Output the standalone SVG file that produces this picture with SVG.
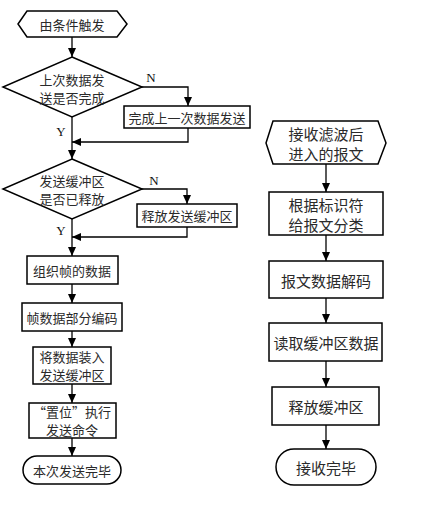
<svg xmlns="http://www.w3.org/2000/svg" width="435" height="510" viewBox="0 0 435 510">
<style>
.s{fill:#fff;stroke:#000;stroke-width:1.5}
.c{fill:none;stroke:#000;stroke-width:1.3}
.t{font-family:"Noto Sans CJK SC","Liberation Serif",serif;font-size:13px;fill:#2a2a2a;text-anchor:middle;dominant-baseline:central}
.r{font-size:15px}
.yn{font-family:"Liberation Serif",serif;font-size:13px;fill:#111;text-anchor:middle;dominant-baseline:central}
</style>
<defs>
<marker id="a" markerUnits="userSpaceOnUse" markerWidth="9" markerHeight="8" refX="9" refY="4" orient="auto">
<path d="M0,0 L9,4 L0,8 z" fill="#000"/>
</marker>
</defs>
<rect width="435" height="510" fill="#fff"/>
<g id="connectors">
<path class="c" d="M72,37 V57" marker-end="url(#a)"/>
<path class="c" d="M72,117 V159" marker-end="url(#a)"/>
<path class="c" d="M142,87 H188 V106" marker-end="url(#a)"/>
<path class="c" d="M188,128 V142 H72" marker-end="url(#a)"/>
<path class="c" d="M142,189 H187 V204" marker-end="url(#a)"/>
<path class="c" d="M187,227 V237 H72" marker-end="url(#a)"/>
<path class="c" d="M72,219 V256" marker-end="url(#a)"/>
<path class="c" d="M72,284 V303" marker-end="url(#a)"/>
<path class="c" d="M72,331 V347" marker-end="url(#a)"/>
<path class="c" d="M72,384 V403" marker-end="url(#a)"/>
<path class="c" d="M72,438 V456" marker-end="url(#a)"/>
<path class="c" d="M326,164 V192" marker-end="url(#a)"/>
<path class="c" d="M326,235 V261" marker-end="url(#a)"/>
<path class="c" d="M326,298 V323" marker-end="url(#a)"/>
<path class="c" d="M326,361 V387" marker-end="url(#a)"/>
<path class="c" d="M326,425 V449" marker-end="url(#a)"/>
<text class="yn" x="151" y="77">N</text>
<text class="yn" x="61" y="131">Y</text>
<text class="yn" x="154" y="180">N</text>
<text class="yn" x="61" y="230">Y</text>
</g>
<g id="start">
<polygon class="s" points="18,24 27,11 117,11 127,24 117,37 27,37"/>
<text class="t" x="72" y="24">由条件触发</text>
</g>
<g id="d1">
<polygon class="s" points="72,57 142,87 72,117 3,87"/>
<text class="t" x="72" y="79">上次数据发</text>
<text class="t" x="72" y="97">送是否完成</text>
</g>
<g id="b1">
<rect class="s" x="124" y="106" width="126" height="22"/>
<text class="t" x="187" y="117">完成上一次数据发送</text>
</g>
<g id="d2">
<polygon class="s" points="72,159 142,189 72,219 3,189"/>
<text class="t" x="72" y="180">发送缓冲区</text>
<text class="t" x="72" y="198">是否已释放</text>
</g>
<g id="b2">
<rect class="s" x="137" y="204" width="100" height="23"/>
<text class="t" x="187" y="215.5">释放发送缓冲区</text>
</g>
<g id="b3">
<rect class="s" x="27" y="256" width="91" height="28"/>
<text class="t" x="72" y="270">组织帧的数据</text>
</g>
<g id="b4">
<rect class="s" x="22" y="303" width="100" height="28"/>
<text class="t" x="72" y="317">帧数据部分编码</text>
</g>
<g id="b5">
<rect class="s" x="33" y="347" width="78" height="37"/>
<text class="t" x="72" y="356.5">将数据装入</text>
<text class="t" x="72" y="374.5">发送缓冲区</text>
</g>
<g id="b6">
<rect class="s" x="29" y="403" width="87" height="35"/>
<text class="t" x="72" y="411.5">“置位”执行</text>
<text class="t" x="72" y="429.5">发送命令</text>
</g>
<g id="end1">
<rect class="s" x="23" y="456" width="98" height="28" rx="14" ry="14"/>
<text class="t" x="72" y="470">本次发送完毕</text>
</g>
<g id="rstart">
<polygon class="s" points="266,143 273,121 378,121 386,143 378,164 273,164"/>
<text class="t r" x="326" y="133">接收滤波后</text>
<text class="t r" x="326" y="153">进入的报文</text>
</g>
<g id="r1">
<rect class="s" x="269" y="192" width="114" height="43"/>
<text class="t r" x="326" y="204">根据标识符</text>
<text class="t r" x="326" y="224">给报文分类</text>
</g>
<g id="r2">
<rect class="s" x="269" y="261" width="114" height="37"/>
<text class="t r" x="326" y="280">报文数据解码</text>
</g>
<g id="r3">
<rect class="s" x="269" y="323" width="113" height="38"/>
<text class="t r" x="326" y="342">读取缓冲区数据</text>
</g>
<g id="r4">
<rect class="s" x="272" y="387" width="107" height="38"/>
<text class="t r" x="326" y="406">释放缓冲区</text>
</g>
<g id="end2">
<rect class="s" x="276" y="449" width="100" height="36" rx="18" ry="18"/>
<text class="t r" x="326" y="467">接收完毕</text>
</g>
</svg>
